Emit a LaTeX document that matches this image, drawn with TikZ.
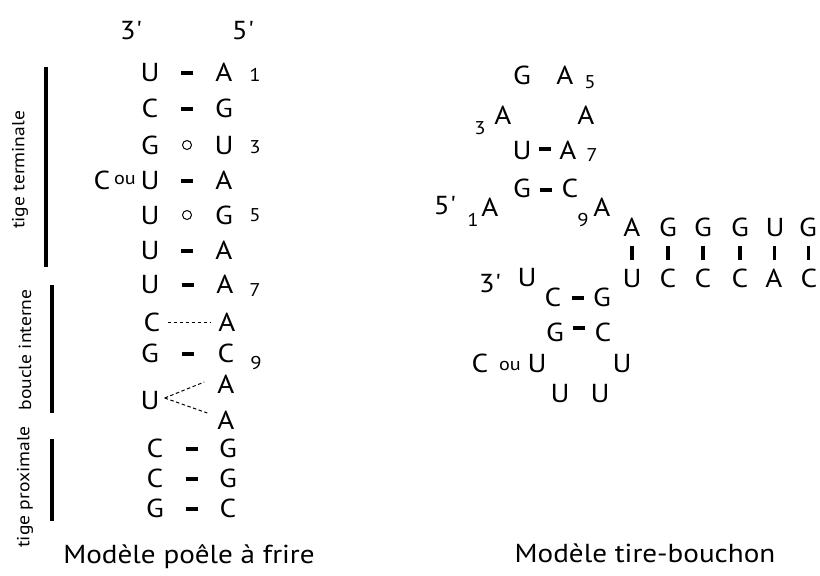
\documentclass[tikz,border=0pt]{standalone}
\usepackage{fontspec}
\setmainfont{PT Sans}[FakeStretch=1.12]
\newfontfamily\primefont{PT Sans}[FakeStretch=1.12,Ligatures=TeXOff]
\usetikzlibrary{calc}
\newcommand{\pr}{{\primefont\char"0027\relax}}
\begin{document}
\begin{tikzpicture}[x=1pt,y=-1pt,
  nt/.style={font=\fontsize{26}{30}\selectfont, inner sep=0pt, text height=18.2pt, text depth=0pt},
  num/.style={font=\fontsize{18.5}{22}\selectfont, inner sep=0pt, text height=13pt, text depth=0pt},
  ou/.style={font=\fontsize{18}{22}\selectfont, inner sep=0pt, text height=9pt, text depth=0pt},
  bond/.style={line width=3.2pt},
  dbond/.style={dashed, dash pattern=on 3.5pt off 2.5pt, line width=1pt},
  wob/.style={line width=1pt},
  vbar/.style={line width=3.2pt},
  lab/.style={font=\fontsize{17.5}{20}\selectfont, rotate=90, inner sep=0pt},
  ttl/.style={font=\fontsize{26}{30}\selectfont, inner sep=0pt}]
\useasboundingbox (0,0) rectangle (820,576);
\fill[white] (0,0) rectangle (820,576);
% ---------- left model ----------
\node[nt] (p3) at (131,30) {3\pr};
\node[nt] (p5) at (243,30) {5\pr};
% row 1
\node[nt] (l1) at (150,72) {U}; \node[nt] (r1) at (224,72) {A};
\node[num] (n1) at (255,75) {1};
% row 2
\node[nt] (l2) at (150,108) {C}; \node[nt] (r2) at (224,108) {G};
% row 3
\node[nt] (l3) at (150,145) {G}; \node[nt] (r3) at (224,145) {U};
\node[num] (n3) at (255,147) {3};
% row 4
\node[nt] (l4) at (150,180) {U}; \node[nt] (r4) at (224,180) {A};
\node[nt] (c4) at (102,180) {C}; \node[ou] (ou4) at (125,180) {ou};
% row 5
\node[nt] (l5) at (150,215) {U}; \node[nt] (r5) at (224,215) {G};
\node[num] (n5) at (255,215) {5};
% row 6
\node[nt] (l6) at (150,250) {U}; \node[nt] (r6) at (224,250) {A};
% row 7
\node[nt] (l7) at (150,284) {U}; \node[nt] (r7) at (225,284) {A};
\node[num] (n7) at (255,290) {7};
% row 8
\node[nt] (l8) at (152,322) {C}; \node[nt] (r8) at (227,322) {A};
% row 9
\node[nt] (l9) at (150,353) {G}; \node[nt] (r9) at (226,353) {C};
\node[num] (n9) at (256,363) {9};
% row 10
\node[nt] (l10) at (150,400) {U};
\node[nt] (r10a) at (226,384) {A};
\node[nt] (r10b) at (226,420) {A};
% rows 11-13
\node[nt] (l11) at (155,448) {C}; \node[nt] (r11) at (228,448) {G};
\node[nt] (l12) at (155,478) {C}; \node[nt] (r12) at (228,478) {G};
\node[nt] (l13) at (155,508) {G}; \node[nt] (r13) at (228,508) {C};
% bonds
\foreach \i in {1,2,4,6,7,9,11,12,13}{
  \draw[bond] ($(l\i)!0.5!(r\i)+(-6,1)$) -- ($(l\i)!0.5!(r\i)+(6,1)$);
}
\foreach \i in {3,5}{
  \draw[wob] ($(l\i)!0.5!(r\i)$) circle (4.5);
}
\draw[dbond] ($(l8.east)+(7,0)$) -- ($(r8.west)+(-7,0)$);
\coordinate (uv) at ($(l10.east)+(5,-2)$);
\draw[dbond] (uv) -- ($(r10a.west)+(-13,-2)$);
\draw[dbond] (uv) -- ($(r10b.west)+(-10,-7)$);
% side bars
\coordinate (b1t) at (46,67); \coordinate (b1b) at (46,267);
\coordinate (b2t) at (52,285); \coordinate (b2b) at (52,413);
\coordinate (b3t) at (52,439); \coordinate (b3b) at (52,521);
\draw[vbar] (b1t) -- (b1b);
\draw[vbar] (b2t) -- (b2b);
\draw[vbar] (b3t) -- (b3b);
\node[lab] (lab1) at (20,170) {tige terminale};
\node[lab] (lab2) at (25,350) {boucle interne};
\node[lab] (lab3) at (25,487) {tige proximale};
\node[ttl] (t1) at (189,557) {Modèle poêle à frire};
% ---------- right model ----------
\node[nt] (g4) at (522,75) {G}; \node[nt] (a5) at (565,75) {A};
\node[num] (m5) at (590,82) {5};
\node[num] (m3) at (480,128) {3};
\node[nt] (a3) at (503,115) {A}; \node[nt] (a6) at (586,115) {A};
\node[nt] (u2) at (522,150) {U}; \node[nt] (a7) at (568,150) {A};
\node[num] (m7) at (592,155) {7};
\node[nt] (gg) at (522,188) {G}; \node[nt] (c8) at (570,188) {C};
\node[nt] (q5) at (445,205) {5\pr};
\node[num] (m1) at (473,220) {1};
\node[nt] (a1) at (490,207) {A};
\node[num] (m9) at (583,220) {9};
\node[nt] (a9) at (602,207) {A};
% helix
\node[nt] (t1a) at (632,227) {A};
\node[nt] (t2a) at (668,227) {G};
\node[nt] (t3a) at (703,227) {G};
\node[nt] (t4a) at (740,227) {G};
\node[nt] (t5a) at (775,227) {U};
\node[nt] (t6a) at (808,227) {G};
\node[nt] (t1b) at (632,278) {U};
\node[nt] (t2b) at (668,278) {C};
\node[nt] (t3b) at (703,278) {C};
\node[nt] (t4b) at (740,278) {C};
\node[nt] (t5b) at (774,278) {A};
\node[nt] (t6b) at (809,278) {C};
\foreach \i in {1,...,6}{
  \draw[vbar] ($(t\i a)!0.5!(t\i b)+(0,-7)$) -- ($(t\i a)!0.5!(t\i b)+(0,7)$);
}
\node[nt] (q3) at (490,283) {3\pr};
\node[nt] (uu) at (527,277) {U};
\node[nt] (cc) at (553,297) {C}; \node[nt] (gr) at (602,297) {G};
\node[nt] (g2) at (555,332) {G}; \node[nt] (c2) at (603,332) {C};
\node[nt] (cx) at (480,363) {C}; \node[ou] (oux) at (510,366) {ou};
\node[nt] (ux) at (537,363) {U}; \node[nt] (uy) at (622,363) {U};
\node[nt] (uz1) at (560,393) {U}; \node[nt] (uz2) at (600,393) {U};
% right bonds
\draw[bond] ($(u2)!0.5!(a7)+(-6,-1)$) -- ($(u2)!0.5!(a7)+(6,-1)$);
\draw[bond] ($(gg)!0.5!(c8)+(-6,2)$) -- ($(gg)!0.5!(c8)+(6,2)$);
\draw[bond] ($(cc)!0.5!(gr)+(-6,1)$) -- ($(cc)!0.5!(gr)+(6,1)$);
\draw[bond] ($(g2)!0.5!(c2)+(-6,-4)$) -- ($(g2)!0.5!(c2)+(6,-4)$);
\node[ttl] (t2) at (645,553) {Modèle tire-bouchon};
\end{tikzpicture}
\end{document}
